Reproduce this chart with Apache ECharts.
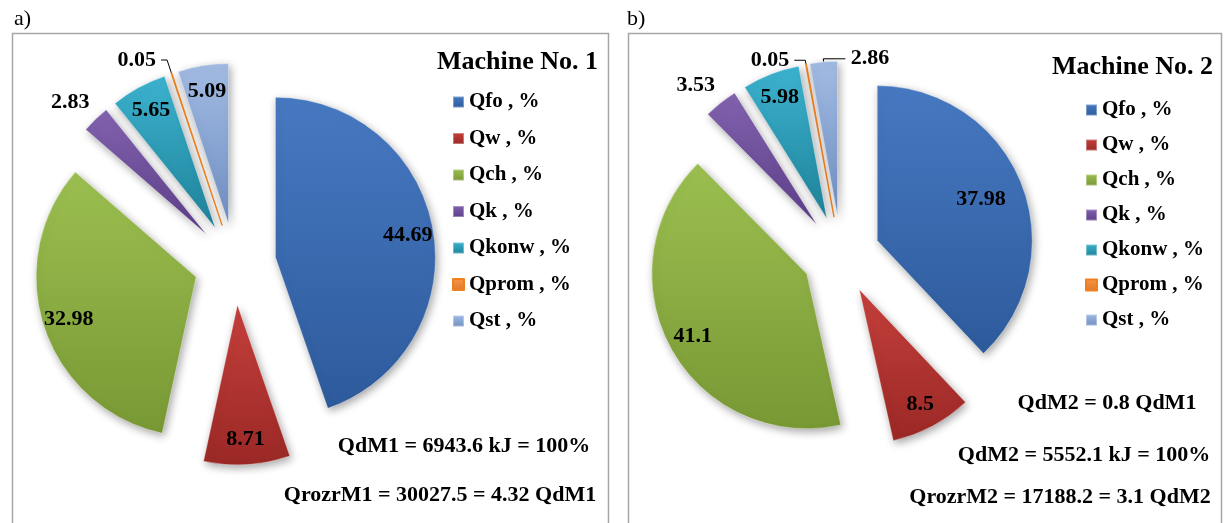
<!DOCTYPE html>
<html>
<head>
<meta charset="utf-8">
<script src="https://cdn.jsdelivr.net/npm/echarts@6/dist/echarts.min.js"></script>
<style>
html,body{margin:0;padding:0;background:#fff;}
#chart{width:1224px;height:523px;}
</style>
</head>
<body>
<div id="chart"></div>
<script>
// ---- data ----
const categories = ['Qfo , %', 'Qw , %', 'Qch , %', 'Qk , %', 'Qkonw , %', 'Qprom , %', 'Qst , %'];
const machine1 = [44.69, 8.71, 32.98, 2.83, 5.65, 0.05, 5.09];
const machine2 = [37.98, 8.5, 41.1, 3.53, 5.98, 0.05, 2.86];
const titles = ['Machine No. 1', 'Machine No. 2'];
const panelLetters = ['a)', 'b)'];
const notes1 = ['QdM1 = 6943.6 kJ = 100%', 'QrozrM1 = 30027.5 = 4.32 QdM1'];
const notes2 = ['QdM2 = 0.8 QdM1', 'QdM2 = 5552.1 kJ = 100%', 'QrozrM2 = 17188.2 = 3.1 QdM2'];

// ---- styles ----
const sliceColors = [
  ['#4779c2', '#2d5a9b'],
  ['#c5403c', '#9a2825'],
  ['#9cbf50', '#789834'],
  ['#8262ae', '#5c3e88'],
  ['#3cb2cf', '#1f8299'],
  ['#f79646', '#e0782a'],
  ['#a2bbe2', '#6f8ec2']
];
const FONT = '"Liberation Serif", "Times New Roman", serif';

function grad(i) {
  return {
    type: 'linear', x: 0, y: 0, x2: 0, y2: 1,
    colorStops: [{ offset: 0, color: sliceColors[i][0] }, { offset: 1, color: sliceColors[i][1] }]
  };
}
function border(i) {
  return i === 5 ? { borderColor: '#f0801f', borderWidth: 1.4 }
                 : { borderColor: 'rgba(255,255,255,0.35)', borderWidth: 1 };
}

// label placement per chart: ring fraction for inside labels, outside label settings
const inner1 = { 0: 0.64, 1: 0.64, 2: 0.64, 4: 0.64, 6: 0.64 };
const inner2 = { 0: 0.4, 1: 0.64, 2: 0.64, 4: 0.64 };
const outside1 = {
  3: { line: false, length: 23, length2: 0, dist: -10 },
  5: { line: true, length: 14, length2: 6, dist: 5 }
};
const outside2 = {
  3: { line: false, length: 22, length2: 0, dist: -8 },
  5: { line: true, length: 4, length2: 11, dist: 5 },
  6: { line: true, length: 3, length2: -22, dist: -44 }
};

function mainSeries(values, center, r, offset) {
  return {
    type: 'pie', center: center, radius: r, startAngle: 90, clockwise: true,
    selectedMode: 'multiple', selectedOffset: offset, avoidLabelOverlap: false,
    silent: true,
    label: { show: false }, labelLine: { show: false },
    itemStyle: {
      shadowBlur: 8, shadowColor: 'rgba(0,0,0,0.35)', shadowOffsetX: 2, shadowOffsetY: 3
    },
    data: categories.map((n, i) => ({
      name: n, value: values[i], selected: true,
      itemStyle: Object.assign({ color: grad(i) }, border(i)),
      select: { itemStyle: Object.assign({ color: grad(i) }, border(i)) }
    }))
  };
}

// transparent ring whose mid radius sets where inside labels sit
function labelSeries(values, center, r, offset, frac, inner, outside) {
  return {
    type: 'pie', center: center, radius: [r * frac, r], startAngle: 90, clockwise: true,
    selectedMode: 'multiple', selectedOffset: offset, avoidLabelOverlap: false,
    silent: true,
    itemStyle: { color: 'rgba(0,0,0,0)', borderWidth: 0 },
    label: {
      show: true, position: 'inside', formatter: '{c}', color: '#000',
      fontFamily: FONT, fontWeight: 'bold', fontSize: 22
    },
    labelLine: { show: false },
    data: categories.map((n, i) => {
      const item = { name: n, value: values[i], selected: true,
        select: { itemStyle: { color: 'rgba(0,0,0,0)', borderWidth: 0 } } };
      const o = outside ? outside[i] : null;
      if (o) {
        item.label = { position: 'outside', distanceToLabelLine: o.dist };
        item.labelLine = {
          show: o.line, length: o.length, length2: o.length2,
          minTurnAngle: 0, maxSurfaceAngle: 180,
          lineStyle: { color: '#000', width: 1 }
        };
      } else if (inner[i] !== frac) {
        item.label = { show: false };
      }
      return item;
    })
  };
}

const legendBase = {
  data: categories, orient: 'vertical', selectedMode: false, padding: 0,
  icon: 'rect', itemWidth: 11, itemHeight: 11,
  textStyle: { fontFamily: FONT, fontWeight: 'bold', fontSize: 21, color: '#000', lineHeight: 22 }
};

function textEl(t, x, y, size, weight, align) {
  return {
    type: 'text', x: x, y: y, silent: true,
    style: { text: t, font: weight + ' ' + size + 'px ' + FONT, fill: '#000',
      textAlign: align || 'center', textVerticalAlign: 'middle' }
  };
}

const chart = echarts.init(document.getElementById('chart'), null, { renderer: 'canvas' });
chart.setOption({
  animation: false,
  backgroundColor: '#fff',
  title: [
    { text: titles[0], left: 437, top: 49, padding: 0,
      textStyle: { fontFamily: FONT, fontWeight: 'bold', fontSize: 26, color: '#000' } },
    { text: titles[1], left: 1052, top: 54, padding: 0,
      textStyle: { fontFamily: FONT, fontWeight: 'bold', fontSize: 26, color: '#000' } }
  ],
  legend: [
    Object.assign({}, legendBase, { left: 452, top: 91, itemGap: 14.5 }),
    Object.assign({}, legendBase, { left: 1085, top: 99, itemGap: 13 })
  ],
  graphic: [
    { type: 'rect', silent: true, shape: { x: 12.5, y: 33.5, width: 596, height: 520 },
      style: { fill: 'none', stroke: '#a6a6a6', lineWidth: 1.5 } },
    { type: 'rect', silent: true, shape: { x: 628.5, y: 33.5, width: 593, height: 520 },
      style: { fill: 'none', stroke: '#a6a6a6', lineWidth: 1.5 } },
    textEl(panelLetters[0], 14, 19, 22, 'normal', 'left'),
    textEl(panelLetters[1], 627, 19, 22, 'normal', 'left'),
    textEl(notes1[0], 464, 446, 22, 'bold'),
    textEl(notes1[1], 440, 495, 22, 'bold'),
    textEl(notes2[0], 1107, 403, 22, 'bold'),
    textEl(notes2[1], 1084, 455, 22, 'bold'),
    textEl(notes2[2], 1060, 497, 22, 'bold')
  ],
  series: [
    mainSeries(machine1, [235, 264], 160, 41),
    mainSeries(machine2, [841, 255], 155, 39),
    labelSeries(machine1, [235, 264], 160, 41, 0.64, inner1, outside1),
    labelSeries(machine2, [841, 255], 155, 39, 0.64, inner2, outside2),
    labelSeries(machine2, [841, 255], 155, 39, 0.4, inner2, null)
  ]
});
</script>
</body>
</html>
